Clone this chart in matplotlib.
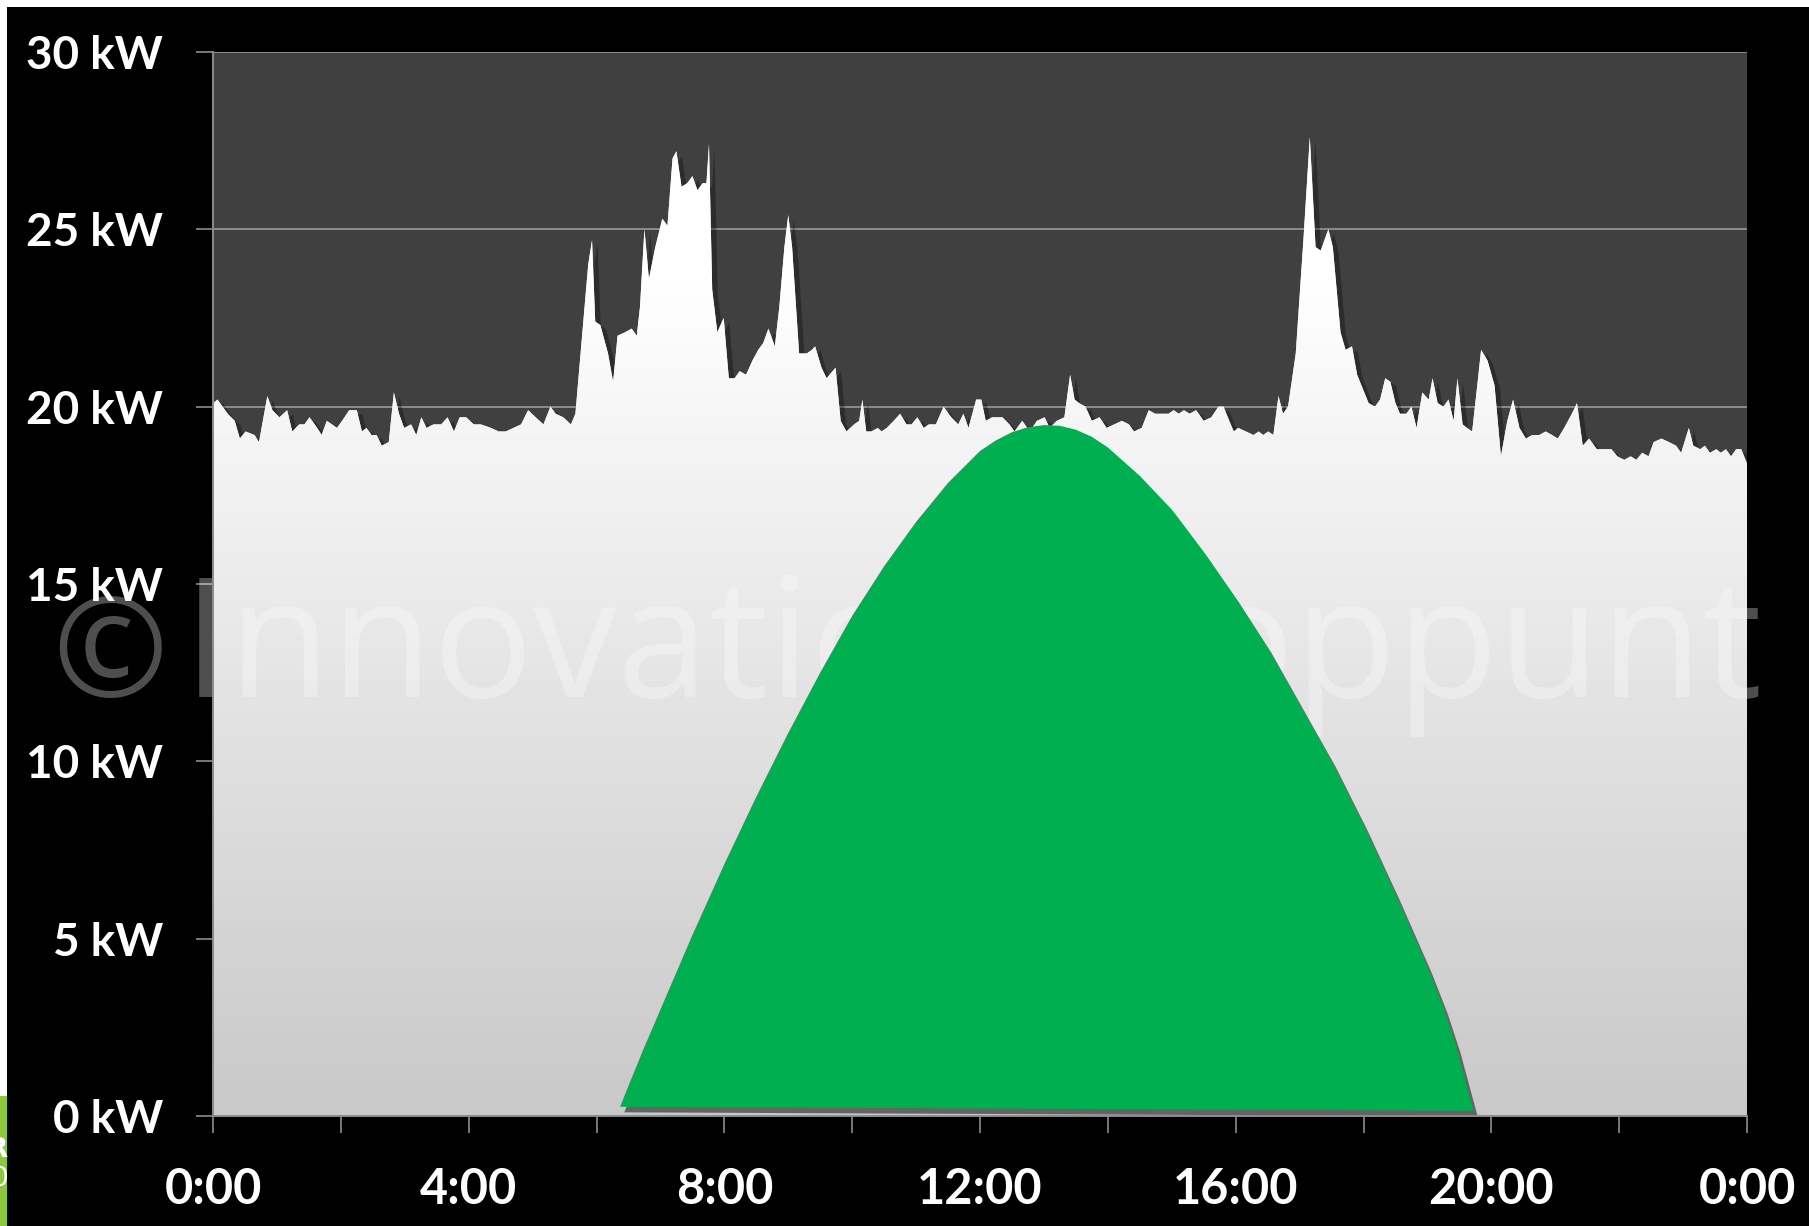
"""Household load (white area) vs. PV production (green) over one day."""

import matplotlib
matplotlib.use("Agg")
import matplotlib.pyplot as plt
import matplotlib.patheffects as pe
from matplotlib.patches import Polygon, Rectangle
import numpy as np

# ── data ─────────────────────────────────────────────────────────────
# load, 0:00 - 12:00 (hours, kW)
load_hours_am = [
    0.00, 0.07, 0.23, 0.34, 0.42, 0.51, 0.65, 0.72, 0.85, 0.93, 1.04, 1.16,
    1.24, 1.35, 1.43, 1.51, 1.63, 1.70, 1.78, 1.86, 1.94, 2.02, 2.13, 2.25,
    2.33, 2.40, 2.48, 2.56, 2.64, 2.75, 2.83, 2.91, 2.99, 3.10, 3.18, 3.26,
    3.34, 3.45, 3.57, 3.67, 3.77, 3.86, 3.96, 4.08, 4.19, 4.35, 4.47, 4.58,
    4.70, 4.82, 4.93, 5.05, 5.17, 5.28, 5.36, 5.48, 5.60, 5.67, 5.87, 5.93,
    5.98, 6.06, 6.18, 6.26, 6.33, 6.45, 6.55, 6.63, 6.68, 6.75, 6.82, 6.92,
    7.03, 7.11, 7.19, 7.25, 7.33, 7.42, 7.50, 7.58, 7.66, 7.72, 7.76, 7.81,
    7.89, 7.99, 8.07, 8.16, 8.24, 8.34, 8.44, 8.53, 8.61, 8.69, 8.79, 8.86,
    8.94, 9.00, 9.06, 9.17, 9.29, 9.37, 9.42, 9.52, 9.60, 9.74, 9.82, 9.91,
    10.03, 10.11, 10.16, 10.22, 10.30, 10.40, 10.46, 10.54, 10.65, 10.75,
    10.85, 10.93, 11.02, 11.12, 11.20, 11.31, 11.43, 11.55, 11.66, 11.74,
    11.82, 11.94, 12.02,
]
load_kw_am = [
    20.1, 20.2, 19.8, 19.6, 19.1, 19.3, 19.2, 19.0, 20.3, 19.9, 19.7, 19.9,
    19.3, 19.5, 19.5, 19.7, 19.4, 19.2, 19.6, 19.5, 19.4, 19.6, 19.9, 19.9,
    19.3, 19.4, 19.2, 19.2, 18.9, 19.0, 20.4, 19.8, 19.4, 19.5, 19.2, 19.7,
    19.4, 19.5, 19.5, 19.7, 19.3, 19.7, 19.7, 19.5, 19.5, 19.4, 19.3, 19.3,
    19.4, 19.5, 19.9, 19.7, 19.5, 20.0, 19.8, 19.7, 19.5, 19.8, 24.0, 24.7,
    22.4, 22.3, 21.5, 20.7, 22.0, 22.1, 22.2, 22.0, 22.8, 25.0, 23.6, 24.5,
    25.3, 25.1, 27.0, 27.2, 26.2, 26.3, 26.5, 26.1, 26.3, 26.3, 27.4, 23.3,
    22.1, 22.5, 20.8, 20.8, 21.0, 20.9, 21.3, 21.6, 21.8, 22.2, 21.7, 22.8,
    24.5, 25.4, 24.5, 21.5, 21.5, 21.6, 21.7, 21.1, 20.8, 21.1, 19.6, 19.3,
    19.5, 19.6, 20.2, 19.3, 19.3, 19.4, 19.3, 19.4, 19.6, 19.8,
    19.5, 19.5, 19.7, 19.4, 19.5, 19.5, 20.0, 19.7, 19.5, 19.8,
    19.4, 20.2, 20.2,
]
# load, 12:00 - 24:00
load_hours_pm = [
    12.09, 12.19, 12.35, 12.46, 12.54, 12.66, 12.78, 12.89, 13.01, 13.09,
    13.20, 13.32, 13.41, 13.48, 13.55, 13.65, 13.75, 13.87, 13.98, 14.10,
    14.22, 14.33, 14.41, 14.53, 14.64, 14.74, 14.84, 14.95, 15.03, 15.11,
    15.19, 15.28, 15.38, 15.50, 15.62, 15.73, 15.81, 15.90, 15.97, 16.04,
    16.16, 16.28, 16.36, 16.43, 16.51, 16.59, 16.67, 16.74, 16.82, 16.94,
    17.06, 17.16, 17.25, 17.33, 17.45, 17.52, 17.64, 17.72, 17.82, 17.90,
    17.99, 18.08, 18.18, 18.26, 18.34, 18.42, 18.50, 18.57, 18.67, 18.75,
    18.83, 18.92, 19.02, 19.08, 19.16, 19.25, 19.33, 19.41, 19.47, 19.55,
    19.62, 19.70, 19.78, 19.84, 19.94, 20.05, 20.15, 20.25, 20.34, 20.44,
    20.54, 20.64, 20.75, 20.85, 20.95, 21.04, 21.14, 21.26, 21.34, 21.43,
    21.53, 21.65, 21.76, 21.88, 21.97, 22.08, 22.18, 22.27, 22.36, 22.46,
    22.54, 22.66, 22.78, 22.89, 22.97, 23.09, 23.16, 23.27, 23.34, 23.42,
    23.52, 23.59, 23.67, 23.75, 23.83, 23.91, 24.00,
]
load_kw_pm = [
    19.6, 19.7, 19.7, 19.5, 19.3, 19.6, 19.3, 19.6, 19.7, 19.4,
    19.6, 19.7, 20.9, 20.2, 20.1, 20.0, 19.6, 19.7, 19.4, 19.5,
    19.6, 19.5, 19.3, 19.4, 19.9, 19.8, 19.8, 19.8, 19.9, 19.8,
    19.9, 19.8, 19.9, 19.6, 19.7, 20.0, 20.0, 19.6, 19.3, 19.4,
    19.3, 19.2, 19.3, 19.2, 19.3, 19.2, 20.3, 19.8, 20.0, 21.5,
    24.7, 27.6, 24.5, 24.4, 25.0, 24.5, 22.1, 21.6, 21.7, 20.9,
    20.5, 20.1, 20.0, 20.2, 20.8, 20.7, 20.1, 19.8, 19.8, 20.0,
    19.4, 20.4, 20.2, 20.8, 20.1, 20.0, 20.2, 19.6, 20.8, 19.5,
    19.4, 19.3, 20.6, 21.6, 21.3, 20.6, 18.6, 19.6, 20.2, 19.4,
    19.1, 19.2, 19.2, 19.3, 19.2, 19.1, 19.4, 19.8, 20.1, 18.9,
    19.1, 18.8, 18.8, 18.8, 18.6, 18.5, 18.6, 18.5, 18.7, 18.6,
    19.0, 19.1, 19.0, 18.9, 18.7, 19.4, 18.9, 18.8, 18.9, 18.7,
    18.8, 18.7, 18.8, 18.6, 18.8, 18.8, 18.4,
]

# PV production (hours, kW); first and last point are the base corners
pv_hours = [6.37, 6.5, 6.75, 7.0, 7.5, 8.0, 8.5, 9.0, 9.5, 10.0, 10.5, 11.0,
            11.5, 12.0, 12.25, 12.5, 12.75, 13.0, 13.25, 13.5, 13.75, 14.0,
            14.25, 14.5, 15.0, 15.5, 16.0, 16.5, 17.0, 17.5, 18.0, 18.5,
            19.0, 19.25, 19.45, 19.6, 19.72]
pv_kw = [0.26, 0.85, 1.95, 3.0, 5.1, 7.1, 9.0, 10.8, 12.5, 14.1, 15.5, 16.75,
         17.85, 18.75, 19.05, 19.28, 19.42, 19.48, 19.46, 19.35, 19.15, 18.85,
         18.45, 18.05, 17.1, 15.9, 14.6, 13.2, 11.6, 10.0, 8.2, 6.25,
         4.2, 3.05, 1.95, 0.95, 0.15]

y_ticks = [0, 5, 10, 15, 20, 25, 30]
y_labels = [f"{v} kW" for v in y_ticks]
x_ticks = list(range(0, 25, 2))
x_labels = ["0:00", "", "4:00", "", "8:00", "", "12:00", "", "16:00", "",
            "20:00", "", "0:00"]

WATERMARK_SIGN = "\u00a9"
WATERMARK_NAME = "Innovatieknooppunt"

assert len(load_hours_am) == len(load_kw_am)
assert len(load_hours_pm) == len(load_kw_pm)
assert len(pv_hours) == len(pv_kw)


def main():
    hours = load_hours_am + load_hours_pm
    load = load_kw_am + load_kw_pm

    W, H = 1809, 1226
    fig = plt.figure(figsize=(W / 100, H / 100), dpi=100, facecolor="black")
    ax = fig.add_axes([213 / W, 1 - 1116 / H, (1747 - 213) / W, (1116 - 52) / H])
    ax.set_facecolor("#404040")
    ax.set_xlim(0, 24)
    ax.set_ylim(0, 30)

    # grid under everything
    ax.set_axisbelow(True)
    ax.yaxis.grid(True, color="#8c8c8c", lw=1.4)
    ax.xaxis.grid(False)

    # load area: polygon with shadow + vertical grey gradient clipped to it
    verts = [(0, 0)] + list(zip(hours, load)) + [(24, 0)]
    poly = Polygon(verts, closed=True, fc="#e8e8e8", ec="none", zorder=2)
    poly.set_path_effects([
        pe.SimplePatchShadow(offset=(4, -3), shadow_rgbFace="black", alpha=0.3),
        pe.Normal(),
    ])
    ax.add_patch(poly)
    yy = np.linspace(0, 30, 300)
    shade = np.clip((200 + 55 * yy / 24) / 255, 0, 1).reshape(-1, 1)
    img = ax.imshow(shade, extent=(0, 24, 0, 30), origin="lower", cmap="gray",
                    vmin=0, vmax=1, aspect="auto", zorder=2.1,
                    interpolation="bilinear")
    img.set_clip_path(poly)

    # watermark sits between load area and PV area
    wm = dict(transform=fig.transFigure, family="Open Sans", color="white",
              alpha=0.31, ha="left", va="baseline", zorder=3, clip_on=False)
    ax.text(52 / W, 1 - 697 / H, WATERMARK_SIGN, fontsize=100, **wm)
    ax.text(183 / W, 1 - 697 / H, WATERMARK_NAME, fontsize=120, **wm)

    # PV area
    pv = Polygon(list(zip(pv_hours, pv_kw)), closed=True, fc="#00b050",
                 ec="none", zorder=4)
    pv.set_path_effects([
        pe.SimplePatchShadow(offset=(3, -4), shadow_rgbFace="black", alpha=0.5),
        pe.Normal(),
    ])
    ax.add_patch(pv)

    # axes, ticks, labels
    for side in ("top", "right"):
        ax.spines[side].set_visible(False)
    for side in ("left", "bottom"):
        ax.spines[side].set_color("#8c8c8c")
        ax.spines[side].set_linewidth(1.4)
        ax.spines[side].set_zorder(5)

    ax.set_yticks(y_ticks)
    ax.set_yticklabels(y_labels)
    ax.set_xticks(x_ticks)
    ax.set_xticklabels(x_labels)
    ax.tick_params(axis="both", direction="out", length=12, width=1.2,
                   color="#8c8c8c", labelcolor="white")
    ax.tick_params(axis="y", pad=24)
    ax.tick_params(axis="x", pad=25)
    for lab in ax.get_xticklabels():
        lab.set_fontfamily("Lato")
        lab.set_fontweight("bold")
        lab.set_fontsize(35)
    for lab in ax.get_yticklabels():
        lab.set_fontfamily("Lato")
        lab.set_fontweight("bold")
        lab.set_fontsize(33)

    # slide edges: white strip top/left, bit of a logo bottom-left
    fig.patches.append(Rectangle((0, 1 - 7 / H), 1, 7 / H,
                                 transform=fig.transFigure, fc="white",
                                 ec="none", zorder=10))
    fig.patches.append(Rectangle((0, 130 / H), 7 / W, 1 - 130 / H,
                                 transform=fig.transFigure, fc="white",
                                 ec="none", zorder=10))
    fig.patches.append(Rectangle((0, 0), 7 / W, 130 / H,
                                 transform=fig.transFigure, fc="#8dc63f",
                                 ec="none", zorder=10))
    fig.text(8 / W, 1 - 1157 / H, "R", ha="right", va="baseline",
             fontsize=19, fontweight="bold", color="white", zorder=11)
    fig.text(8 / W, 1 - 1186 / H, "0", ha="right", va="baseline",
             fontsize=19, color="white", zorder=11)

    fig.savefig("out.png", dpi=100, facecolor="black")
    plt.close(fig)


if __name__ == "__main__":
    main()
